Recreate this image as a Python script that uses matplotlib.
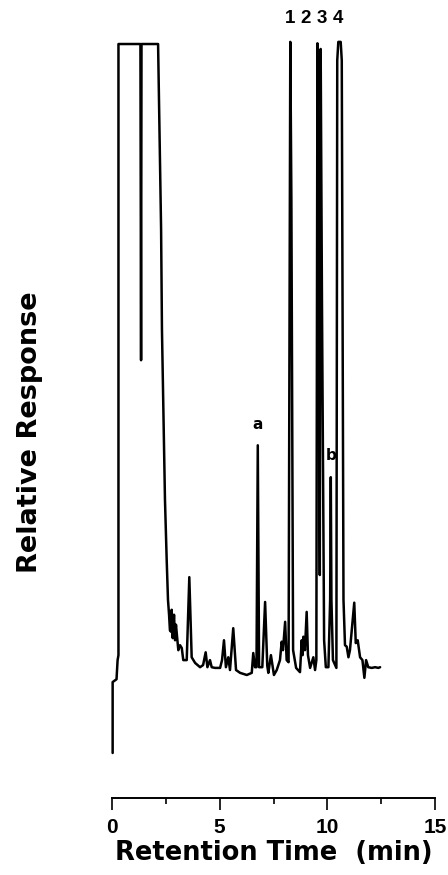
import matplotlib.pyplot as plt
from matplotlib.ticker import MultipleLocator

# Chromatogram trace (min, relative response; 100 = pen limit)
time_min = [
    0.03, 0.03, 0.21, 0.26, 0.30, 0.30, 1.32, 1.35, 1.37, 2.14,
    2.28, 2.32, 2.46, 2.54, 2.60, 2.65, 2.69, 2.74, 2.77, 2.82,
    2.88, 2.93, 2.97, 3.08, 3.16, 3.24, 3.31, 3.47, 3.59, 3.70,
    3.86, 4.09, 4.23, 4.35, 4.43, 4.55, 4.63, 4.78, 5.02, 5.11,
    5.20, 5.29, 5.40, 5.48, 5.63, 5.76, 5.95, 6.26, 6.49, 6.56,
    6.64, 6.71, 6.77, 6.83, 6.98, 7.11, 7.21, 7.26, 7.38, 7.52, 7.65,
    7.80, 7.88, 7.94, 8.04, 8.11, 8.20, 8.28, 8.33, 8.41, 8.55,
    8.73, 8.81, 8.85, 8.89, 8.96, 9.04, 9.10, 9.20, 9.35, 9.43,
    9.49, 9.54, 9.60, 9.65, 9.69, 9.75, 9.85, 9.93, 10.05, 10.13,
    10.16, 10.19, 10.26, 10.42, 10.46, 10.51, 10.62, 10.67, 10.75, 10.82,
    10.90, 10.98, 11.05, 11.25, 11.32, 11.41, 11.52, 11.63, 11.72, 11.80,
    11.90, 12.06, 12.22, 12.37, 12.45,
]
response = [
    0.0, 10.0, 10.4, 13.1, 13.8, 100.0, 100.0, 55.4, 100.0, 100.0,
    73.8, 59.7, 35.7, 27.2, 21.6, 19.5, 17.3, 17.1, 20.2, 16.2,
    19.5, 15.9, 18.1, 14.5, 15.2, 14.8, 13.1, 13.1, 24.8, 13.5,
    12.7, 12.1, 12.4, 14.2, 12.1, 13.1, 12.1, 12.0, 12.0, 13.1,
    15.9, 12.1, 13.5, 11.7, 17.6, 11.7, 11.3, 11.0, 11.3, 14.1,
    12.1, 12.1, 43.4, 12.1, 12.1, 21.3, 12.3, 11.3, 13.8, 11.0, 11.7,
    13.1, 15.7, 14.5, 18.5, 13.1, 12.8, 100.3, 78.0, 14.5, 12.0,
    11.4, 15.9, 13.8, 16.4, 14.5, 19.9, 13.8, 12.0, 13.5, 11.7,
    13.1, 100.1, 63.9, 25.1, 99.3, 63.9, 15.9, 12.1, 12.1, 21.6,
    38.9, 21.6, 13.1, 12.0, 97.7, 100.3, 100.3, 97.7, 21.6, 15.2,
    15.0, 13.5, 14.5, 21.2, 15.5, 15.9, 13.5, 13.1, 10.6, 13.1,
    12.1, 12.0, 12.1, 12.0, 12.1,
]

# numbered peaks and minor peaks a, b
peak_numbers = ["1", "2", "3", "4"]
minor_labels = ["a", "b"]
minor_times = [6.77, 10.16]
minor_heights = [43.4, 38.9]

fig = plt.figure(figsize=(4.48, 8.75), dpi=100)
ax = fig.add_axes([0.25, 0.088, 0.721, 0.8698])

ax.plot(time_min, response, color="black", linewidth=1.8,
        solid_joinstyle="round", solid_capstyle="round", clip_on=False)

ax.set_xlim(0, 15)
ax.set_ylim(-6.35, 101)

for side in ["top", "right", "left"]:
    ax.spines[side].set_visible(False)
ax.spines["bottom"].set_linewidth(1.4)
ax.set_yticks([])

ax.xaxis.set_major_locator(MultipleLocator(5))
ax.xaxis.set_minor_locator(MultipleLocator(2.5))
ax.tick_params(axis="x", which="major", direction="out", length=8.6, width=1.2, pad=5.5)
ax.tick_params(axis="x", which="minor", direction="out", length=4.3, width=1.2)
for lab in ax.get_xticklabels():
    lab.set_fontfamily("Liberation Sans")
    lab.set_fontweight("bold")
    lab.set_fontsize(15)

# peak labels
label_x = [8.25, 9.01, 9.75, 10.50]
for txt, x in zip(peak_numbers, label_x):
    ax.text(x, 103.6, txt, ha="center", va="center", fontsize=13.5,
            fontfamily="Liberation Sans", fontweight="bold")
for txt, x, h in zip(minor_labels, minor_times, minor_heights):
    ax.text(x, h + 3.0, txt, ha="center", va="center", fontsize=11,
            fontfamily="DejaVu Sans", fontweight="bold")

fig.text(273.5 / 448, 1 - 860 / 875, "Retention Time  (min)", ha="center",
         va="baseline", fontsize=18.5, fontfamily="DejaVu Sans", fontweight="bold")
fig.text(30 / 448, 1 - 432 / 875, "Relative Response", ha="center", va="center",
         rotation=90, fontsize=19.5, fontfamily="DejaVu Sans", fontweight="bold")

fig.savefig("out.png", dpi=100)
